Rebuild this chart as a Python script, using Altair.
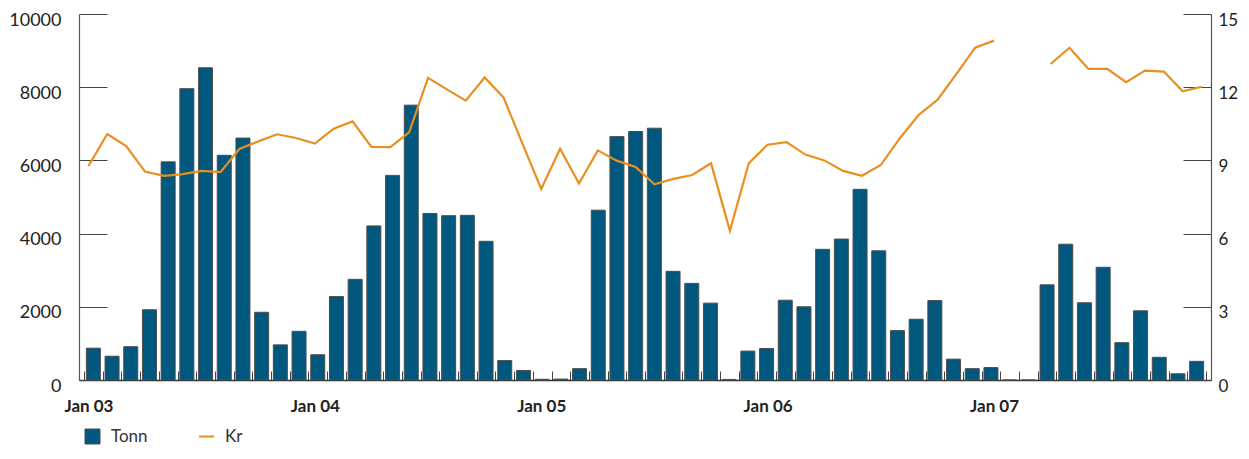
import altair as alt
import pandas as pd

# ---- data ----
month_index = list(range(60))  # Jan 03 .. Dec 07
tonn = [870, 650, 910, 1920, 5960, 7960, 8530, 6140, 6610, 1850, 960, 1330,
        690, 2280, 2750, 4210, 5590, 7510, 4550, 4490, 4500, 3790, 530, 260,
        20, 25, 310, 4640, 6650, 6790, 6880, 2970, 2640, 2100, 15, 790,
        860, 2180, 2000, 3570, 3850, 5210, 3530, 1350, 1660, 2170, 570, 310,
        340, 0, 0, 2600, 3710, 2110, 3080, 1020, 1890, 620, 170, 510]
kr = [8.77, 10.08, 9.59, 8.54, 8.37, 8.44, 8.57, 8.52, 9.47, 9.78, 10.07, 9.92,
      9.69, 10.30, 10.60, 9.55, 9.54, 10.15, 12.38, 11.91, 11.45, 12.40, 11.58, 9.70,
      7.83, 9.48, 8.05, 9.41, 8.99, 8.73, 8.02, 8.24, 8.40, 8.88, 6.11, 8.88,
      9.64, 9.75, 9.24, 9.00, 8.57, 8.37, 8.81, 9.90, 10.86, 11.48, 12.54, 13.62,
      13.91, None, None, 12.95, 13.62, 12.75, 12.75, 12.21, 12.68, 12.64, 11.83, 12.02]
x_label_months = [0, 12, 24, 36, 48]
x_labels = ["Jan 03", "Jan 04", "Jan 05", "Jan 06", "Jan 07"]
tonn_ticks = [0, 2000, 4000, 6000, 8000, 10000]
kr_ticks = [0, 3, 6, 9, 12, 15]

BAR_COLOR = "#00587F"
LINE_COLOR = "#E98F1F"
FONT = "Lato"

df = pd.DataFrame({"m": [i + 0.5 for i in month_index], "tonn": tonn, "kr": kr})
df["s1"] = "Tonn"
df["s2"] = "Kr"
seg = []
s = 0
for i, v in enumerate(kr):
    if v is None and i > 0 and kr[i - 1] is not None:
        s += 1
    seg.append(s)
df["seg"] = seg
df_line = df.dropna(subset=["kr"])

xscale = alt.Scale(domain=[0, 60], nice=False, zero=False)
yscale_t = alt.Scale(domain=[0, 10000], nice=False)
yscale_k = alt.Scale(domain=[0, 15], nice=False)

label_expr = " : ".join(
    [f"abs(datum.value - {m + 0.5}) < 0.1 ? '{lab}'" for m, lab in zip(x_label_months, x_labels)]
) + " : ''"

# Bars + inward tick marks (x and left y)
bars = alt.Chart(df).mark_bar(size=14, stroke="#4d4d4d", strokeWidth=1).encode(
    x=alt.X("m:Q", scale=xscale,
            axis=alt.Axis(orient="bottom", values=list(range(61)), tickSize=9, offset=-9,
                          labels=False, domain=False, grid=False, tickColor="#444",
                          tickWidth=1, title=None)),
    y=alt.Y("tonn:Q", scale=yscale_t,
            axis=alt.Axis(orient="left", values=tonn_ticks, tickSize=28, offset=-28, labels=False,
                          domain=False, grid=False, tickColor="#444", tickWidth=1, title=None)),
    color=alt.Color("s1:N", scale=alt.Scale(domain=["Tonn"], range=[BAR_COLOR]),
                    legend=alt.Legend(title=None, orient="none", legendX=5, legendY=414,
                                      symbolType="square", symbolSize=225, labelFontSize=17,
                                      labelFont=FONT, labelColor="#333", labelOffset=10,
                                      symbolStrokeColor="#4d4d4d", symbolStrokeWidth=1)),
)

# Line + x labels/domain + right inward ticks
line = alt.Chart(df_line).mark_line(strokeWidth=2.2).encode(
    x=alt.X("m:Q", scale=xscale,
            axis=alt.Axis(orient="bottom", values=[m + 0.5 for m in x_label_months],
                          labelExpr=label_expr, ticks=False, tickSize=0, domain=True,
                          domainColor="#333", domainWidth=1.5, grid=False, labelFont=FONT,
                          labelFontWeight="bold", labelFontSize=17, labelColor="#222",
                          labelPadding=18, title=None)),
    y=alt.Y("kr:Q", scale=yscale_k,
            axis=alt.Axis(orient="right", values=kr_ticks, tickSize=28, offset=-28, labels=False,
                          domain=False, grid=False, tickColor="#444", tickWidth=1, title=None)),
    stroke=alt.Stroke("s2:N", scale=alt.Scale(domain=["Kr"], range=[LINE_COLOR]),
                      legend=alt.Legend(title=None, orient="none", legendX=119, legendY=414,
                                        symbolType="stroke", symbolSize=225, symbolStrokeWidth=2,
                                        labelFontSize=17, labelFont=FONT, labelColor="#333",
                                        labelOffset=10)),
    detail="seg:N",
)

# Left axis labels and line
left_axis = alt.Chart(df).mark_point(opacity=0).encode(
    y=alt.Y("tonn:Q", scale=yscale_t,
            axis=alt.Axis(orient="left", values=tonn_ticks, format="d", ticks=False, tickSize=0,
                          domain=True, domainColor="#555", domainWidth=1.2, grid=False,
                          labelFont=FONT, labelFontSize=18, labelColor="#222", labelPadding=18,
                          labelOffset=6, title=None)),
)

# Right axis labels and line
right_axis = alt.Chart(df_line).mark_point(opacity=0).encode(
    y=alt.Y("kr:Q", scale=yscale_k,
            axis=alt.Axis(orient="right", values=kr_ticks, format="d", ticks=False, tickSize=0,
                          domain=True, domainColor="#555", domainWidth=1.2, grid=False,
                          labelFont=FONT, labelFontSize=17, labelColor="#222", labelPadding=7,
                          labelOffset=6, title=None)),
)

chart = alt.layer(bars, line, left_axis, right_axis).resolve_scale(
    x="independent", y="independent"
).resolve_axis(
    x="independent", y="independent"
).properties(
    width=1132, height=366,
    padding={"left": 71, "top": 6, "right": 30, "bottom": 65},
    autosize=alt.AutoSizeParams(type="none"),
).configure_view(stroke=None)

chart.save("out.html", embed_options={"renderer": "svg", "actions": False})
